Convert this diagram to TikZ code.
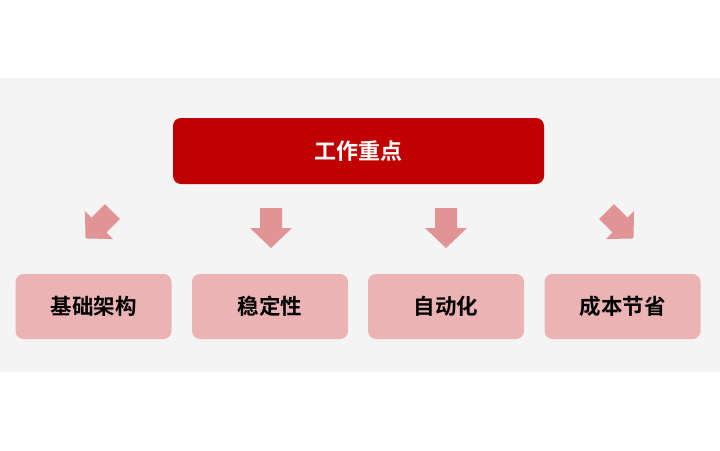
\documentclass[tikz,border=0pt]{standalone}
\usepackage{fontspec}
\newfontfamily\cjk{Noto Sans CJK SC Bold}
\definecolor{topred}{HTML}{C00000}
\definecolor{boxpink}{HTML}{EBB3B3}
\definecolor{arrpink}{HTML}{E09494}
\definecolor{bg}{HTML}{F4F4F4}
\begin{document}
\begin{tikzpicture}[x=1pt,y=-1pt,
  sub/.style={fill=boxpink,rounded corners=8pt,minimum width=156pt,minimum height=65pt,font=\cjk\fontsize{21.5}{21.5}\selectfont,text=black},
  blockarrow/.pic={\fill[arrpink] (-11,-20)--(11,-20)--(11,0)--(21,0)--(0,20)--(-21,0)--(-11,0)--cycle;}]
\useasboundingbox (0,0) rectangle (720,450);
\fill[bg] (0,78) rectangle (720,372);
\node[fill=topred,rounded corners=8pt,minimum width=371pt,minimum height=66pt,font=\cjk\fontsize{22}{22}\selectfont,text=white] (top) at (358.5,151) {工作重点};
\node[sub] (a) at (93.5,306.5) {基础架构};
\node[sub] (b) at (270,306.5) {稳定性};
\node[sub] (c) at (446,306.5) {自动化};
\node[sub] (d) at (622.5,306.5) {成本节省};
\pic[rotate=-45,scale=0.95] at (99,225) {blockarrow};
\pic at (271,228) {blockarrow};
\pic at (446,228) {blockarrow};
\pic[rotate=45,scale=0.95] at (620,225) {blockarrow};
\end{tikzpicture}
\end{document}
